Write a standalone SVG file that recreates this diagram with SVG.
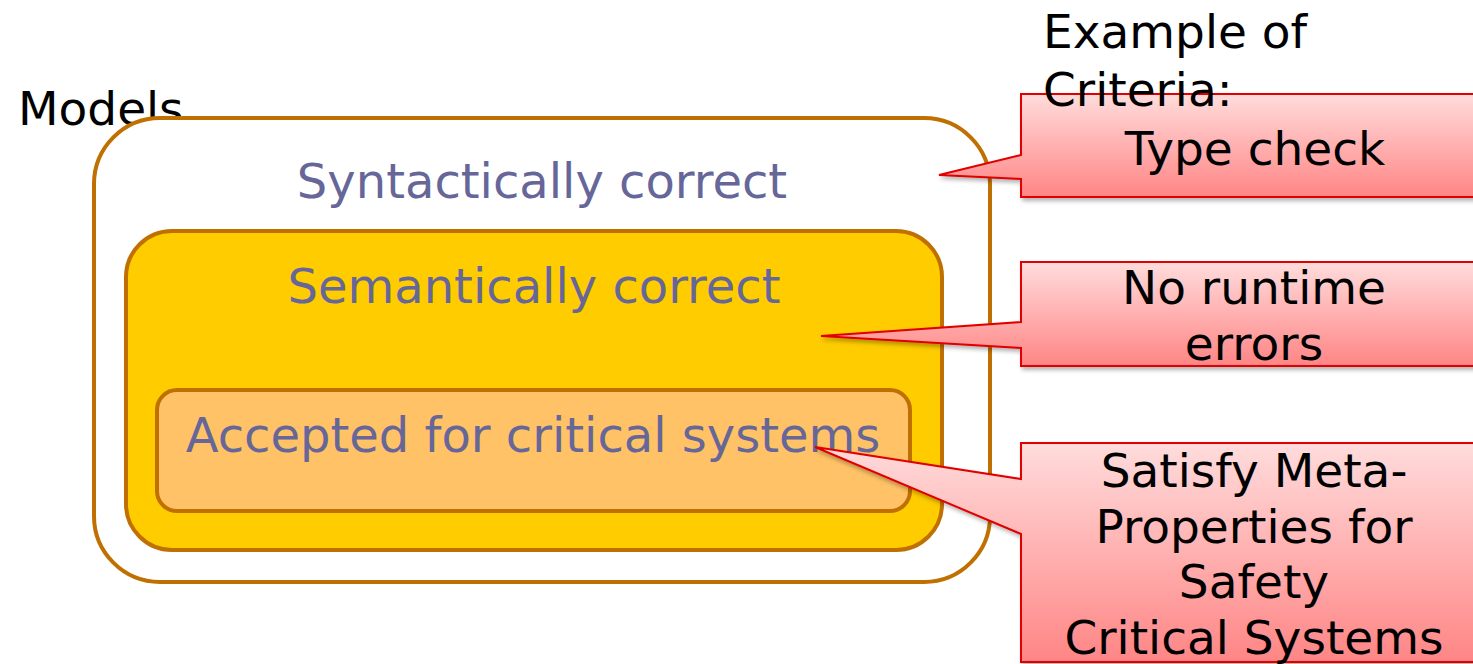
<svg xmlns="http://www.w3.org/2000/svg" width="1473" height="664" viewBox="0 0 1473 664">
<style>
.set{stroke:#BF7000;stroke-width:4}
text{font-family:"DejaVu Sans",Verdana,sans-serif;font-size:47px}
.lbl{fill:#666699;text-anchor:middle;font-size:48px}
.blk{fill:#000}
.cal{fill:url(#rg);stroke:#E00000;stroke-width:2;filter:url(#sh)}
.ct{fill:#000;text-anchor:middle}
</style>
<defs>
<linearGradient id="rg" x1="0" y1="0" x2="0" y2="1">
<stop offset="0" stop-color="#FFDCDC"/>
<stop offset="1" stop-color="#FF8585"/>
</linearGradient>
<filter id="sh" x="-10%" y="-10%" width="130%" height="130%">
<feDropShadow dx="2" dy="3" stdDeviation="2" flood-color="#000" flood-opacity="0.3"/>
</filter>
</defs>
<rect width="1473" height="664" fill="#fff"/>
<g id="models-label"><text class="blk" x="18" y="125">Models</text></g>
<g id="syntactic"><rect class="set" x="94" y="118" width="896" height="464" rx="66" fill="#fff"/>
<text class="lbl" x="542" y="198">Syntactically correct</text></g>
<g id="semantic"><rect class="set" x="126" y="231" width="816" height="319" rx="46" fill="#FFCC00"/>
<text class="lbl" x="534" y="303">Semantically correct</text></g>
<g id="accepted"><rect class="set" x="157" y="390" width="753" height="121" rx="20" fill="#FFC266"/>
<text class="lbl" x="533" y="452">Accepted for critical systems</text></g>
<g id="connectors">
<path class="cal" d="M1021,94 H1480 V197 H1021 V179 L939,175 L1021,155 Z"/>
<path class="cal" d="M1021,262 H1480 V366 H1021 V348 L821,336 L1021,322 Z"/>
<path class="cal" d="M1021,443 H1480 V662 H1021 V534 L815,447 L1021,479 Z"/>
</g>
<g id="example-label"><text class="blk" x="1043" y="48">Example of</text><text class="blk" x="1043" y="106">Criteria:</text></g>
<g id="c1"><text class="ct" x="1255" y="165">Type check</text></g>
<g id="c2"><text class="ct" x="1254" y="304">No runtime</text><text class="ct" x="1254" y="360">errors</text></g>
<g id="c3"><text class="ct" x="1254" y="487">Satisfy Meta-</text><text class="ct" x="1254" y="543">Properties for</text><text class="ct" x="1254" y="598">Safety</text><text class="ct" x="1254" y="654">Critical Systems</text></g>
</svg>
